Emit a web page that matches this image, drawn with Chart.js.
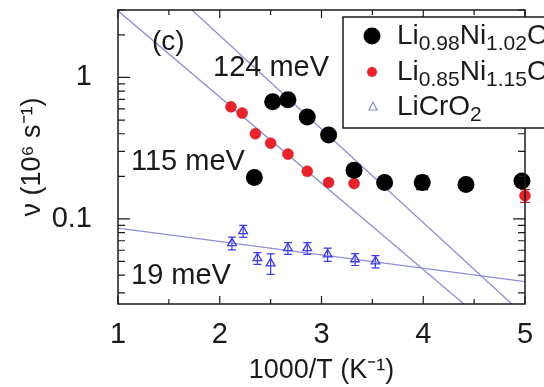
<!DOCTYPE html>
<html>
<head>
<meta charset="utf-8">
<script src="https://cdn.jsdelivr.net/npm/chart.js@4/dist/chart.umd.min.js"></script>
<style>
  html, body { margin: 0; padding: 0; background: #fff; }
  canvas { display: block; }
</style>
</head>
<body>
<canvas id="chart" width="544" height="387"></canvas>
<script>
// ---------------------------
// Data
// ---------------------------
const FONT = '"Liberation Sans", Arial, Helvetica, sans-serif';

// Li0.98Ni1.02O2 (black)
const xBlack = [2.34, 2.52, 2.67, 2.86, 3.07, 3.32, 3.62, 3.99, 4.42, 4.97];
const vBlack = [0.196, 0.674, 0.696, 0.526, 0.392, 0.221, 0.181, 0.181, 0.175, 0.185];
const errBlack = [0, 0, 0, 0, 0, 0, 0.01, 0.02, 0, 0.01];

// Li0.85Ni1.15O2 (red)
const xRed = [2.11, 2.22, 2.35, 2.50, 2.67, 2.86, 3.07, 3.32, 5.00];
const vRed = [0.62, 0.56, 0.40, 0.343, 0.287, 0.217, 0.181, 0.178, 0.146];
const errRed = [0, 0, 0, 0, 0, 0, 0, 0, 0.015];

// LiCrO2 (blue open triangles)
const xCr = [2.12, 2.23, 2.37, 2.50, 2.67, 2.86, 3.06, 3.33, 3.53];
const vCr = [0.0674, 0.082, 0.0527, 0.0485, 0.062, 0.062, 0.056, 0.0518, 0.050];
const errCr = [0.007, 0.008, 0.005, 0.008, 0.006, 0.006, 0.006, 0.005, 0.005];

// Arrhenius fit lines (end points where they leave the frame)
const fit124x = [1.727, 4.87];
const fit124v = [3, 0.025];
const fit115x = [1.0, 4.40];
const fit115v = [2.96, 0.025];
const fit19x = [1.0, 5.0];
const fit19v = [0.086, 0.036];

// axes
const xTickLabels = [1, 2, 3, 4, 5];
const xTickMarks = [1, 1.5, 2, 2.5, 3, 3.5, 4, 4.5, 5];
const yTickLabels = [0.1, 1];
const yTickMarks = [0.03, 0.04, 0.05, 0.06, 0.07, 0.08, 0.09,
  0.1, 0.2, 0.3, 0.4, 0.5, 0.6, 0.7, 0.8, 0.9, 1, 2, 3];

const toPts = (xs, ys) => xs.map((x, i) => ({ x, y: ys[i] }));

// ---------------------------
// Plugins
// ---------------------------
const errorBars = {
  id: 'errorBars',
  beforeDatasetsDraw(chart) {
    const { ctx, scales: { x, y } } = chart;
    const sets = [
      { xs: xBlack, vs: vBlack, es: errBlack, color: '#000', cap: 6 },
      { xs: xRed, vs: vRed, es: errRed, color: '#d81c24', cap: 5 },
      { xs: xCr, vs: vCr, es: errCr, color: '#3b3bea', cap: 4 }
    ];
    ctx.save();
    ctx.lineWidth = 1.2;
    sets.forEach(s => {
      ctx.strokeStyle = s.color;
      ctx.beginPath();
      s.xs.forEach((xv, i) => {
        if (!s.es[i]) return;
        const px = x.getPixelForValue(xv);
        const top = y.getPixelForValue(s.vs[i] + s.es[i]);
        const bot = y.getPixelForValue(s.vs[i] - s.es[i]);
        ctx.moveTo(px, top); ctx.lineTo(px, bot);
        ctx.moveTo(px - s.cap, top); ctx.lineTo(px + s.cap, top);
        ctx.moveTo(px - s.cap, bot); ctx.lineTo(px + s.cap, bot);
      });
      ctx.stroke();
    });
    ctx.restore();
  }
};

const frameTicks = {
  id: 'frameTicks',
  afterDatasetsDraw(chart) {
    const { ctx, chartArea: a, scales: { x, y } } = chart;
    ctx.save();
    ctx.strokeStyle = '#1a1a1a';
    ctx.lineWidth = 1.5;
    ctx.strokeRect(a.left, a.top, a.right - a.left, a.bottom - a.top);
    ctx.lineWidth = 1.2;
    ctx.beginPath();
    xTickMarks.forEach(v => {
      const px = x.getPixelForValue(v);
      const len = xTickLabels.includes(v) ? 8 : 5;
      ctx.moveTo(px, a.bottom); ctx.lineTo(px, a.bottom - len);
      ctx.moveTo(px, a.top); ctx.lineTo(px, a.top + len);
    });
    yTickMarks.forEach(v => {
      const py = y.getPixelForValue(v);
      const len = yTickLabels.includes(v) ? 12 : 7;
      ctx.moveTo(a.left, py); ctx.lineTo(a.left + len, py);
      ctx.moveTo(a.right, py); ctx.lineTo(a.right - len, py);
    });
    ctx.stroke();
    ctx.restore();
  }
};

// formula with subscripts, parts = [[text, isSub], ...]
function drawChem(ctx, x, base, parts) {
  parts.forEach(([t, sub]) => {
    ctx.font = (sub ? '21px ' : '28px ') + FONT;
    ctx.fillText(t, x, sub ? base + 6 : base);
    x += ctx.measureText(t).width;
  });
}

const labelsAndLegend = {
  id: 'labelsAndLegend',
  afterDraw(chart) {
    const ctx = chart.ctx;
    ctx.save();
    ctx.fillStyle = '#1a1a1a';
    ctx.textAlign = 'left';
    ctx.textBaseline = 'alphabetic';
    ctx.font = '28px ' + FONT;
    ctx.fillText('(c)', 152, 50);
    ctx.font = '29px ' + FONT;
    ctx.fillText('124 meV', 213, 76);
    ctx.fillText('115 meV', 131, 170);
    ctx.fillText('19 meV', 131, 284);

    // legend box
    ctx.fillStyle = '#fff';
    ctx.fillRect(343, 17, 220, 111);
    ctx.strokeStyle = '#1a1a1a';
    ctx.lineWidth = 1.5;
    ctx.strokeRect(343, 17, 220, 111);

    ctx.fillStyle = '#000';
    ctx.beginPath(); ctx.arc(372, 36, 8.5, 0, Math.PI * 2); ctx.fill();
    ctx.fillStyle = '#e8232b';
    ctx.beginPath(); ctx.arc(372, 72, 5, 0, Math.PI * 2); ctx.fill();
    ctx.strokeStyle = '#8a8ad0';
    ctx.lineWidth = 1.2;
    ctx.beginPath();
    ctx.moveTo(373, 102); ctx.lineTo(377, 110); ctx.lineTo(369, 110); ctx.closePath();
    ctx.stroke();

    ctx.fillStyle = '#1a1a1a';
    drawChem(ctx, 397, 44, [['Li', 0], ['0.98', 1], ['Ni', 0], ['1.02', 1], ['O', 0], ['2', 1]]);
    drawChem(ctx, 397, 80, [['Li', 0], ['0.85', 1], ['Ni', 0], ['1.15', 1], ['O', 0], ['2', 1]]);
    drawChem(ctx, 397, 115, [['LiCrO', 0], ['2', 1]]);
    ctx.restore();
  }
};

// ---------------------------
// Chart
// ---------------------------
const fitStyle = {
  showLine: true, pointRadius: 0, borderColor: '#8e8ed8', borderWidth: 1.3,
  backgroundColor: 'transparent', tension: 0
};

new Chart(document.getElementById('chart'), {
  type: 'scatter',
  data: {
    datasets: [
      { label: 'Li0.98Ni1.02O2', data: toPts(xBlack, vBlack), pointRadius: 8.5,
        backgroundColor: '#000', borderColor: '#000', borderWidth: 0, clip: false },
      { label: 'Li0.85Ni1.15O2', data: toPts(xRed, vRed), pointRadius: 5.5,
        backgroundColor: '#e8232b', borderColor: '#c81820', borderWidth: 0.5, clip: false },
      { label: 'LiCrO2', data: toPts(xCr, vCr), pointStyle: 'triangle', pointRadius: 5,
        backgroundColor: 'rgba(255,255,255,0)', borderColor: '#3b3bea', borderWidth: 1.3, clip: false },
      { label: '124 meV', data: toPts(fit124x, fit124v), ...fitStyle },
      { label: '115 meV', data: toPts(fit115x, fit115v), ...fitStyle },
      { label: '19 meV', data: toPts(fit19x, fit19v), ...fitStyle }
    ]
  },
  options: {
    responsive: false,
    animation: false,
    devicePixelRatio: 1,
    layout: { padding: { top: 10, right: 19, left: 0, bottom: 0 } },
    plugins: { legend: { display: false }, tooltip: { enabled: false } },
    scales: {
      x: {
        type: 'linear', min: 1, max: 5,
        afterBuildTicks: s => { s.ticks = xTickLabels.map(v => ({ value: v })); },
        afterFit: s => { s.height = 83; s.paddingLeft = 0; s.paddingRight = 0; },
        grid: { display: false }, border: { display: false },
        ticks: { font: { family: FONT, size: 29 }, color: '#1a1a1a', padding: 6,
                 maxRotation: 0, autoSkip: false },
        title: { display: true, text: '1000/T (K⁻¹)', color: '#1a1a1a',
                 font: { family: FONT, size: 27 }, padding: { top: 0, bottom: 0 } }
      },
      y: {
        type: 'logarithmic', min: 0.025, max: 3,
        afterBuildTicks: s => { s.ticks = yTickLabels.map(v => ({ value: v })); },
        afterFit: s => { s.width = 118; s.paddingTop = 0; s.paddingBottom = 0; },
        grid: { display: false }, border: { display: false },
        ticks: { font: { family: FONT, size: 29 }, color: '#1a1a1a', padding: 18,
                 callback: v => String(v) },
        title: { display: true, text: 'ν (10⁶ s⁻¹)', color: '#1a1a1a',
                 font: { family: FONT, size: 27 }, padding: { top: 16, bottom: 0 } }
      }
    }
  },
  plugins: [errorBars, frameTicks, labelsAndLegend]
});
</script>
</body>
</html>
